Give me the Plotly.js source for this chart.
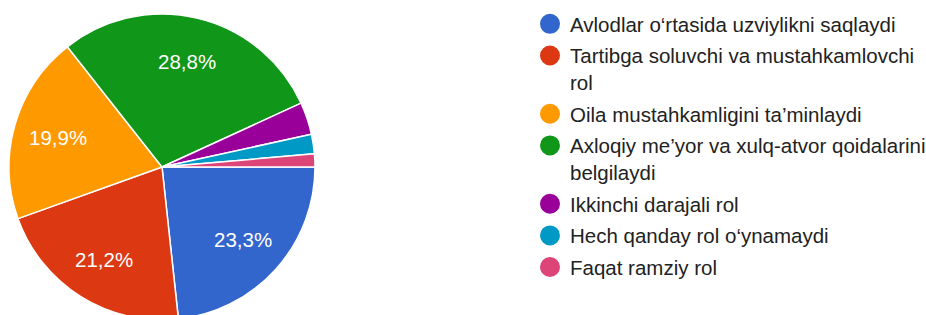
<!DOCTYPE html>
<html><head><meta charset="utf-8">
<script src="https://cdn.plot.ly/plotly-3.0.1.min.js"></script>
<style>html,body{margin:0;padding:0;overflow:hidden;background:#fff}</style>
</head><body><div id="chart" style="width:926px;height:330px"></div>
<script>
const labels = ["Avlodlar o‘rtasida uzviylikni saqlaydi", "Tartibga soluvchi va mustahkamlovchi rol", "Oila mustahkamligini ta’minlaydi", "Axloqiy me’yor va xulq-atvor qoidalarini belgilaydi", "Ikkinchi darajali rol", "Hech qanday rol o‘ynamaydi", "Faqat ramziy rol"];
const legendLabels = ["Avlodlar o‘rtasida uzviylikni saqlaydi", "Tartibga soluvchi va mustahkamlovchi<br>rol", "Oila mustahkamligini ta’minlaydi", "Axloqiy me’yor va xulq-atvor qoidalarini<br>belgilaydi", "Ikkinchi darajali rol", "Hech qanday rol o‘ynamaydi", "Faqat ramziy rol"];
const counts = [34, 31, 29, 42, 5, 3, 2];
const colors = ["#3366cc", "#dc3912", "#ff9900", "#109618", "#990099", "#0099c6", "#dd4477"];

const W = 926, H = 330;
const cx = 162, cy = 167, R = 153;
const FONT = '"Liberation Sans", Arial, sans-serif';
const total = counts.reduce((a, b) => a + b, 0);
const traces = [{
  type: 'pie', labels: labels, values: counts, sort: false, direction: 'clockwise', rotation: 90,
  marker: {colors: colors, line: {color: '#fff', width: 1.5}},
  textinfo: 'none',
  hoverinfo: 'label+percent', showlegend: false,
  domain: {x: [(cx - R)/W, (cx + R)/W], y: [(H - cy - R)/H, (H - cy + R)/H]}
}];
labels.forEach((l, i) => traces.push({
  type: 'scatter', x: [null], y: [null], mode: 'markers', name: legendLabels[i], legendgroup: 'g' + i,
  marker: {color: colors[i], size: 16, symbol: 'circle', line: {color: colors[i], width: 4}}, hoverinfo: 'skip'
}));

// percent labels placed from the data's slice angles (~0.71 radius)
const annotations = [];
let cum = 0;
counts.forEach((c, i) => {
  const frac = c / total;
  const mid = (cum + frac / 2) * 2 * Math.PI;
  cum += frac;
  if (frac < 0.05) return;
  const px = cx + 0.71 * R * Math.cos(mid), py = cy + 0.71 * R * Math.sin(mid);
  annotations.push({xref: 'paper', yref: 'paper', x: px / W, y: (H - py) / H,
    xanchor: 'center', yanchor: 'middle', showarrow: false,
    text: (frac * 100).toFixed(1).replace('.', ',') + '%',
    font: {color: '#fff', size: 20.5, family: FONT}});
});

Plotly.newPlot('chart', traces, {
  width: W, height: H, margin: {l: 0, r: 0, t: 0, b: 0, autoexpand: false},
  paper_bgcolor: '#fff', plot_bgcolor: '#fff', separators: ', ',
  xaxis: {visible: false}, yaxis: {visible: false},
  annotations: annotations,
  showlegend: true,
  legend: {x: 530/W, xanchor: 'left', y: (H - 4)/H, yanchor: 'top', tracegroupgap: 2, valign: 'top',
    font: {size: 20.5, color: '#222', family: FONT}, bgcolor: 'rgba(0,0,0,0)'},
  font: {family: FONT}
}, {displayModeBar: false, staticPlot: true});
</script></body></html>
